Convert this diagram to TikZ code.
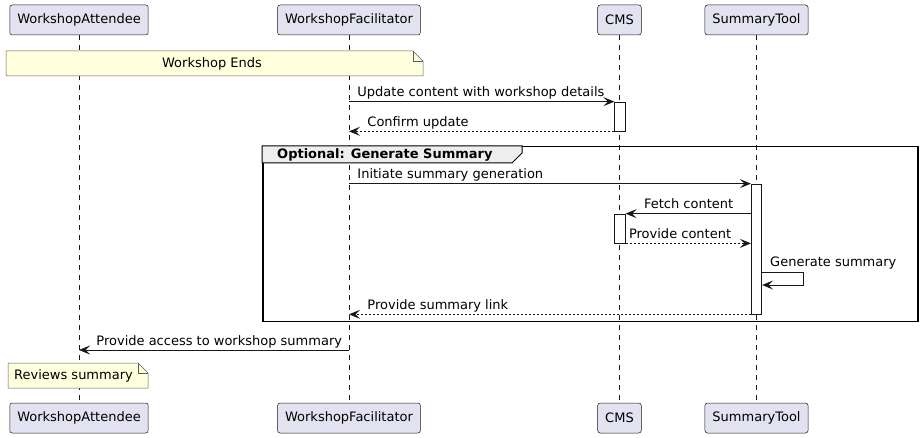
\documentclass[tikz,border=0pt]{standalone}
\usepackage{fontspec}
\setmainfont{DejaVu Sans}
\usetikzlibrary{arrows.meta}
\definecolor{partfill}{RGB}{226,226,240}
\definecolor{inkdark}{RGB}{24,24,24}
\definecolor{notefill}{RGB}{254,255,221}
\definecolor{tabfill}{RGB}{238,238,238}
\begin{document}
\begin{tikzpicture}[
  x=1pt, y=-1pt,
  font=\fontsize{13pt}{15pt}\selectfont,
  participant/.style={rectangle, draw=inkdark, fill=partfill, line width=0.5pt, rounded corners=2.5pt, minimum height=30pt, inner xsep=7.5pt},
  lifeline/.style={draw=inkdark, line width=0.5pt, dash pattern=on 5pt off 5pt},
  actbar/.style={rectangle, draw=inkdark, fill=white, line width=0.7pt, minimum width=10.5pt, inner sep=0pt},
  msg/.style={draw=inkdark, line width=0.9pt, -{Stealth[length=11pt,width=9pt,inset=4.5pt]}},
  reply/.style={msg, dash pattern=on 2pt off 2pt},
  lbl/.style={anchor=base west, inner sep=0pt, yshift=5pt},
  notebox/.style={draw=inkdark!70, fill=notefill, line width=0.5pt},
  notetext/.style={inner sep=0pt}
]
\useasboundingbox (0,0) rectangle (921,438);

% participants, top and bottom
\node[participant] (attTop) at (79,20) {WorkshopAttendee};
\node[participant] (facTop) at (349,20) {WorkshopFacilitator};
\node[participant] (cmsTop) at (619.5,20) {CMS};
\node[participant] (sumTop) at (756.5,20) {SummaryTool};
\node[participant] (attBot) at (79,418) {WorkshopAttendee};
\node[participant] (facBot) at (349,418) {WorkshopFacilitator};
\node[participant] (cmsBot) at (619.5,418) {CMS};
\node[participant] (sumBot) at (756.5,418) {SummaryTool};

\draw[lifeline] (attTop) -- (attBot);
\draw[lifeline] (facTop) -- (facBot);
\draw[lifeline] (cmsTop) -- (cmsBot);
\draw[lifeline] (sumTop) -- (sumBot);

% note over both
\draw[notebox] (6,51) -- (413,51) -- (423,61) -- (423,76) -- (6,76) -- cycle;
\draw[notebox, fill=none] (413,51) -- (413,61) -- (423,61);
\node[notetext] (endNote) at (212,63.5) {Workshop Ends};

% activations
\node[actbar, minimum height=29pt] (cmsA1) at (620,116.5) {};
\node[actbar, minimum height=130pt] (sumA) at (756.5,249) {};
\node[actbar, minimum height=29pt] (cmsA2) at (620,228.5) {};

\draw[msg] (facTop |- cmsA1.north) -- (cmsA1.north west)
  node[lbl, pos=0, xshift=8pt] {Update content with workshop details};
\draw[reply] (cmsA1.south west) -- (facTop |- cmsA1.south)
  node[lbl, pos=1, xshift=18pt] {Confirm update};

% optional group
\node[draw=black, line width=1.5pt, anchor=north west, minimum width=655pt, minimum height=175pt, inner sep=0pt] (optFrame) at (262,146) {};
\draw[draw=black, fill=tabfill, line width=1pt] (optFrame.north west) -- (522,146) -- (522,153) -- (512,163) -- (262,163) -- cycle;
\node[anchor=base west, inner sep=0pt, font=\fontsize{13pt}{15pt}\selectfont\bfseries] (optTitle) at (277,159) {Optional: Generate Summary};

\draw[msg] (facTop |- sumA.north) -- (sumA.north west)
  node[lbl, pos=0, xshift=8pt] {Initiate summary generation};
\draw[msg] (sumA.west |- cmsA2.north) -- (cmsA2.north east)
  node[lbl, pos=1, xshift=18pt] {Fetch content};
\draw[reply] (cmsA2.south east) -- (sumA.west |- cmsA2.south)
  node[lbl, pos=0, xshift=3pt] {Provide content};
\draw[msg] (sumA.east |- 0,272) -- (803,272) -- (803,285) -- (sumA.east |- 0,285);
\node[lbl] (selfLbl) at (770,272) {Generate summary};
\draw[reply] (sumA.south west) -- (facTop |- sumA.south)
  node[lbl, pos=1, xshift=18pt] {Provide summary link};

\draw[msg] (facTop |- 0,350) -- (attTop |- 0,350)
  node[lbl, pos=1, xshift=17pt] {Provide access to workshop summary};

% note over attendee
\draw[notebox] (8,363) -- (138,363) -- (148,373) -- (148,388) -- (8,388) -- cycle;
\draw[notebox, fill=none] (138,363) -- (138,373) -- (148,373);
\node[notetext, anchor=west] (revNote) at (14,375.5) {Reviews summary};
\end{tikzpicture}
\end{document}
